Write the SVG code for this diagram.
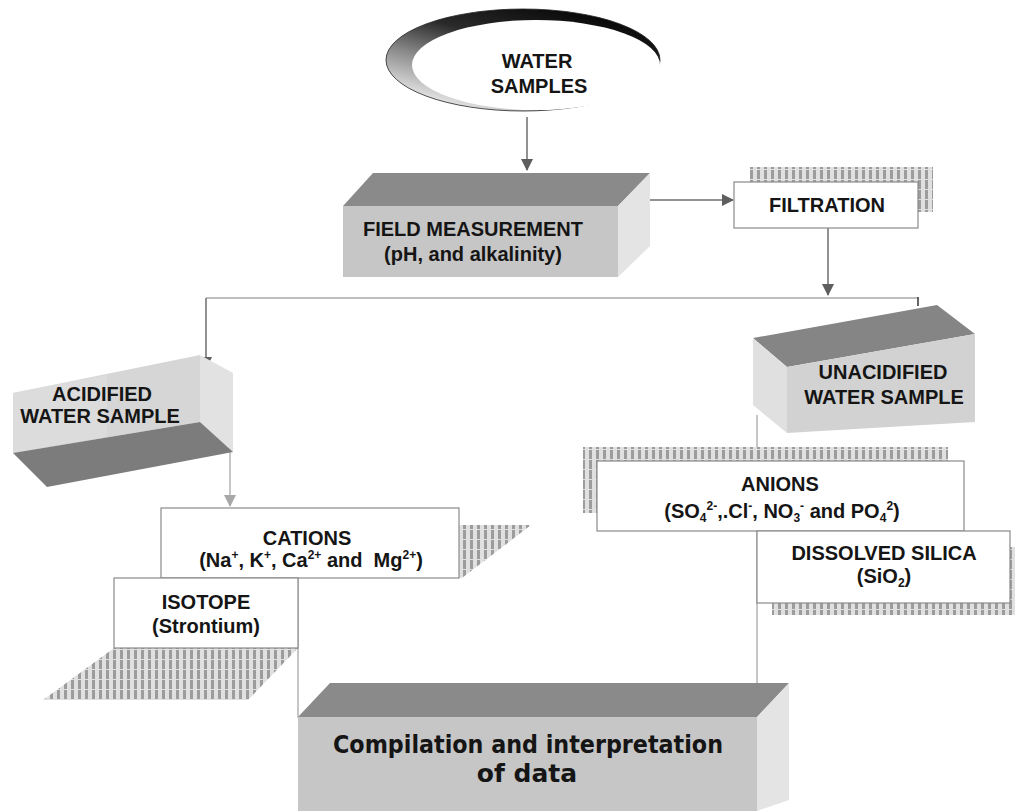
<svg xmlns="http://www.w3.org/2000/svg" width="1017" height="811" viewBox="0 0 1017 811">
<style>
.t{font-family:"Liberation Sans",Arial,sans-serif;font-weight:bold;font-size:20px;fill:#151515;text-anchor:middle}
.big{font-family:"DejaVu Sans",Verdana,sans-serif;font-weight:bold;font-size:25px;fill:#151515;text-anchor:middle}
.sup{font-size:12px}
.top{fill:#8a8a8a}
.front{fill:#c6c6c6}
.side{fill:#e4e4e4}
.box{fill:#fff;stroke:#8a8a8a;stroke-width:1.2}
.hatch{fill:url(#stripes)}
.conn{fill:none;stroke:#6e6e6e;stroke-width:1.5}
.conn-l{fill:none;stroke:#a8a8a8;stroke-width:1.3}
</style>
<defs>
<pattern id="stripes" width="7" height="10" patternUnits="userSpaceOnUse">
<rect width="7" height="10" fill="#e0e0e0"/>
<rect x="1" width="3" height="9" fill="#9c9c9c"/>
</pattern>
<linearGradient id="ring" x1="0.75" y1="0" x2="0.05" y2="1">
<stop offset="0" stop-color="#050505"/>
<stop offset="0.35" stop-color="#2a2a2a"/>
<stop offset="0.6" stop-color="#8a8a8a"/>
<stop offset="0.9" stop-color="#eeeeee"/>
</linearGradient>
<marker id="ah" markerWidth="12" markerHeight="12" refX="11" refY="6" orient="auto" markerUnits="userSpaceOnUse">
<path d="M0,0 L12,6 L0,12 Z" fill="#5e5e5e"/>
</marker>
<marker id="ahl" markerWidth="12" markerHeight="12" refX="11" refY="6" orient="auto" markerUnits="userSpaceOnUse">
<path d="M0,0 L12,6 L0,12 Z" fill="#a8a8a8"/>
</marker>
</defs>
<rect width="1017" height="811" fill="#fff"/>

<g id="connectors">
<line class="conn" x1="527" y1="117" x2="527" y2="170" marker-end="url(#ah)"/>
<line class="conn" x1="650" y1="200" x2="733" y2="200" marker-end="url(#ah)"/>
<line class="conn" x1="828" y1="228" x2="828" y2="295" marker-end="url(#ah)"/>
<polyline class="conn-l" points="206,298 918,298"/>
<line stroke="#333" stroke-width="1.5" x1="918" y1="297" x2="918" y2="306"/>
<line class="conn" x1="206" y1="298" x2="206" y2="368" marker-end="url(#ah)"/>
<line class="conn-l" x1="230" y1="438" x2="230" y2="506" marker-end="url(#ahl)"/>
<line class="conn-l" x1="757" y1="415" x2="757" y2="684"/>
<line class="conn-l" x1="298" y1="578" x2="298" y2="718"/>
</g>

<g id="water-samples">
<ellipse cx="523" cy="60" rx="137" ry="51" fill="url(#ring)" stroke="#222" stroke-width="0.8"/>
<ellipse cx="536" cy="65" rx="124" ry="45" fill="#fff"/>
<text class="t" x="537" y="68">WATER</text>
<text class="t" x="539" y="93">SAMPLES</text>
</g>

<g id="field-measurement">
<polygon class="top" points="343,206 373,173 650,173 618,206"/>
<polygon class="side" points="618,206 650,173 650,246 618,277"/>
<rect class="front" x="343" y="206" width="275" height="71"/>
<text class="t" x="473" y="236">FIELD MEASUREMENT</text>
<text class="t" x="473" y="261">(pH, and alkalinity)</text>
</g>

<g id="filtration">
<rect class="hatch" x="750" y="167" width="183" height="45"/>
<rect class="box" x="734" y="182" width="184" height="46"/>
<text class="t" x="827" y="212">FILTRATION</text>
</g>

<g id="acidified">
<polygon points="13,393 200,355 200,422 13,453" fill="#d6d6d6"/>
<polygon points="13,393 107,375 107,437 13,453" fill="#dcdcdc"/>
<polygon points="200,355 233,373 233,452 200,422" fill="#e2e2e2"/>
<polygon points="13,453 200,422 233,452 47,487" fill="#7c7c7c"/>
<text class="t" x="102" y="401">ACIDIFIED</text>
<text class="t" x="100" y="423">WATER SAMPLE</text>
</g>

<g id="unacidified">
<polygon points="753,338 937,305 975,334 787,367" fill="#858585"/>
<polygon points="753,338 787,367 787,433 753,405" fill="#e0e0e0"/>
<polygon points="787,367 975,334 975,422 787,433" fill="#d2d2d2"/>
<text class="t" x="883" y="379">UNACIDIFIED</text>
<text class="t" x="884" y="404">WATER SAMPLE</text>
</g>

<g id="cations">
<polygon class="hatch" points="459,525 531,525 462,578 459,578"/>
<rect class="box" x="161" y="508" width="298" height="70"/>
<text class="t" x="307" y="545">CATIONS</text>
<text class="t" x="311" y="567" xml:space="preserve">(Na<tspan class="sup" dy="-8">+</tspan><tspan dy="8">, K</tspan><tspan class="sup" dy="-8">+</tspan><tspan dy="8">, Ca</tspan><tspan class="sup" dy="-8">2+</tspan><tspan dy="8"> and  Mg</tspan><tspan class="sup" dy="-8">2+</tspan><tspan dy="8">)</tspan></text>
</g>

<g id="isotope">
<polygon class="hatch" points="114,648 298,648 248,700 43,700"/>
<rect class="box" x="114" y="578" width="184" height="70"/>
<text class="t" x="206" y="609">ISOTOPE</text>
<text class="t" x="206" y="633">(Strontium)</text>
</g>

<g id="anions">
<rect class="hatch" x="583" y="447" width="365" height="66"/>
<rect class="box" x="597" y="461" width="367" height="70"/>
<text class="t" x="780" y="491">ANIONS</text>
<text class="t" x="782" y="518">(SO<tspan class="sup" dy="4">4</tspan><tspan class="sup" dy="-12">2-</tspan><tspan dy="8">,.Cl</tspan><tspan class="sup" dy="-8">-</tspan><tspan dy="8">, NO</tspan><tspan class="sup" dy="4">3</tspan><tspan class="sup" dy="-12">-</tspan><tspan dy="8"> and PO</tspan><tspan class="sup" dy="4">4</tspan><tspan class="sup" dy="-12">2</tspan><tspan dy="8">)</tspan></text>
</g>

<g id="dissolved-silica">
<rect class="hatch" x="772" y="547" width="243" height="68"/>
<rect class="box" x="757" y="531" width="253" height="72"/>
<text class="t" x="884" y="560">DISSOLVED SILICA</text>
<text class="t" x="884" y="583">(SiO<tspan class="sup" dy="4">2</tspan><tspan dy="-4">)</tspan></text>
</g>

<g id="compilation">
<polygon class="top" points="298,717 330,683 789,683 757,717"/>
<polygon class="side" points="757,717 789,683 789,800 757,811"/>
<rect class="front" x="298" y="717" width="459" height="94"/>
<text class="big" x="528" y="753" textLength="390" lengthAdjust="spacingAndGlyphs">Compilation and interpretation</text>
<text class="big" x="527" y="782">of data</text>
</g>
</svg>
